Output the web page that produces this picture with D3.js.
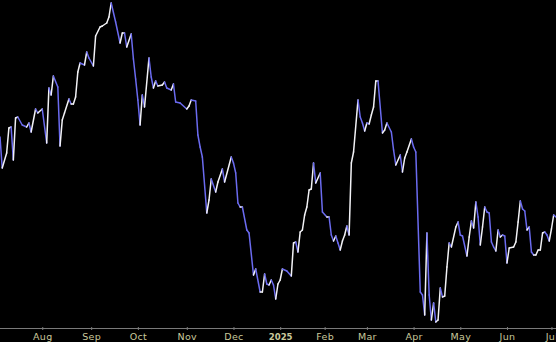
<!DOCTYPE html>
<html>
<head>
<meta charset="utf-8">
<script src="https://cdn.jsdelivr.net/npm/d3@7"></script>
<style>
  html, body { margin: 0; padding: 0; background: #000; }
  svg { display: block; }
</style>
</head>
<body>
<svg id="chart" width="556" height="342"></svg>
<script>
// Trading-day index (from early July 2024) and closing values
const dayIndex = [
  0,1,3,4,5,6,7,8,10,12,13,14,16,17,19,21,22,23,24,26,27,28,29,31,32,33,34,35,36,38,39,40,42,43,45,46,48,49,50,
  52,54,55,56,57,59,60,61,62,63,64,65,67,68,69,70,71,73,74,75,77,78,79,81,84,85,86,88,89,90,91,93,94,95,97,98,
  100,101,104,105,106,107,108,109,111,112,114,115,117,118,119,120,121,122,123,124,125,126,127,129,131,132,133,
  134,135,136,137,138,139,140,141,142,144,145,147,148,149,150,151,152,153,154,155,156,157,158,159,161,162,163,
  164,165,166,167,168,169,170,172,173,174,176,177,178,180,181,182,183,185,186,187,189,190,191,192,193,194,195,
  196,197,198,199,200,201,202,203,205,206,207,208,210,211,212,213,214,215,216,217,218,219,220,221,222,223,224,
  225,226,227,228,229,231,232,233,234,235,236,237,238,239,240,241,242,243,244,245,246,247,248,249,250
];
const closeValues = [
  39.3,36.2,37.7,40.2,40.3,37.0,41.2,41.3,40.5,40.3,40.7,39.8,42.1,41.7,42.1,38.7,44.2,43.5,45.4,44.3,38.4,41.0,41.7,43.1,42.6,42.6,43.3,45.8,46.7,46.5,47.8,47.2,46.4,49.4,50.3,50.4,50.7,51.3,52.7,
  50.8,48.7,49.7,49.7,48.3,49.6,47.1,45.1,43.0,40.5,43.5,42.3,47.2,45.3,44.2,44.9,44.4,44.5,44.8,44.2,44.0,44.6,42.8,42.7,42.1,42.4,43.0,42.9,39.5,38.3,37.3,31.7,33.0,35.1,33.8,34.8,
  36.1,34.8,37.3,36.7,35.7,32.7,32.3,32.3,30.0,29.7,25.5,26.1,23.8,23.8,25.6,24.6,24.5,25.0,24.5,23.1,24.6,25.0,26.1,25.9,25.4,28.7,28.8,
  27.8,29.8,30.0,31.5,32.3,34.0,34.1,36.7,34.7,35.7,31.8,31.3,31.3,29.5,28.9,29.4,28.7,28.0,28.9,29.5,30.4,29.5,36.7,37.8,43.0,41.3,40.7,
  39.9,40.7,40.6,41.5,42.3,44.9,44.9,39.7,40.0,40.7,39.8,38.0,36.5,37.5,35.8,37.2,37.8,39.1,38.3,37.8,23.8,23.5,21.5,29.7,23.5,21.0,22.7,
  20.8,21.0,24.2,23.3,23.4,26.3,28.7,28.3,30.3,30.8,29.5,29.4,27.4,29.3,30.9,30.2,32.8,31.3,28.5,30.3,32.3,31.8,31.7,28.8,28.3,27.9,30.0,
  29.3,29.5,29.4,26.7,28.2,28.3,28.8,30.8,32.9,32.1,31.9,30.0,30.3,27.8,27.5,27.5,28.0,28.0,29.7,29.8,29.5,28.9,30.1,31.5,31.3
];
// Month tick labels and the trading-day index where each month starts
const monthLabels = ["Aug","Sep","Oct","Nov","Dec","2025","Feb","Mar","Apr","May","Jun","Jul"];
const monthStartIdx = [19,41,62,84,105,126,146,165,186,207,228,248];

const W = 556, H = 342;
const axisY = 328.5;
const svg = d3.select("#chart");
svg.append("rect").attr("width", W).attr("height", H).attr("fill", "#000");

const x = d3.scaleLinear().domain([0, 250]).range([0, 555.9]);
const y = d3.scaleLinear().domain([20, 53]).range([330, 0]);

const pts = dayIndex.map((d, k) => ({ i: d, v: closeValues[k] }));
const segs = d3.pairs(pts);

const UP = "#f2f2f6", DOWN = "#6b6bf0";
svg.append("g")
  .selectAll("line")
  .data(segs)
  .join("line")
  .attr("x1", d => x(d[0].i)).attr("y1", d => y(d[0].v))
  .attr("x2", d => x(d[1].i)).attr("y2", d => y(d[1].v))
  .attr("stroke", d => d[1].v >= d[0].v ? UP : DOWN)
  .attr("stroke-width", 1.5)
  .attr("stroke-linecap", "round");

// x axis
const axis = d3.axisBottom(x)
  .tickValues(monthStartIdx)
  .tickFormat((d, k) => monthLabels[k])
  .tickSizeInner(-3)
  .tickSizeOuter(0)
  .tickPadding(6);

const gAxis = svg.append("g")
  .attr("transform", `translate(0,${axisY})`)
  .call(axis);
gAxis.select(".domain").attr("stroke", "#7a7a7a").attr("d", `M0,0H${W}`);
gAxis.selectAll(".tick line").attr("stroke", "#7a7a7a").attr("y1", 1.5).attr("y2", -1.5);
gAxis.selectAll(".tick text")
  .attr("fill", "#c9c99c")
  .attr("y", 4.5)
  .attr("dy", "0.71em")
  .style("font-family", "'DejaVu Sans', Verdana, sans-serif")
  .style("font-size", "9.5px")
  .style("letter-spacing", "0.3px")
  .each(function(d, k) {
    if (monthLabels[k] === "2025") {
      d3.select(this)
        .style("font-weight", "bold")
        .style("font-family", "'DejaVu Sans Condensed', 'DejaVu Sans', sans-serif")
        .style("font-stretch", "condensed")
        .style("letter-spacing", "0px");
    }
  });
</script>
</body>
</html>
